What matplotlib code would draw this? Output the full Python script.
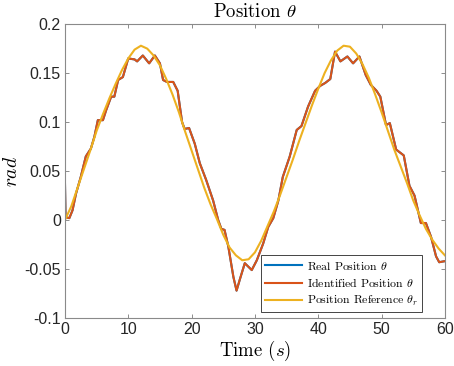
import matplotlib as mpl
import matplotlib.pyplot as plt

mpl.use('agg')

plt.rcParams['mathtext.fontset'] = 'cm'
plt.rcParams['axes.unicode_minus'] = False

# reference signal, read every 1 s (t = 0..60)
ref_time = list(range(0, 61))
ref_pos = [0.000, 0.014, 0.033, 0.052, 0.071, 0.091, 0.108, 0.124, 0.139, 0.153,
           0.165, 0.174, 0.178, 0.175, 0.168, 0.158, 0.144, 0.128, 0.110, 0.090,
           0.071, 0.052, 0.033, 0.016, 0.001, -0.015, -0.028, -0.036, -0.041, -0.040,
           -0.033, -0.021, -0.006, 0.009, 0.026, 0.044, 0.062, 0.081, 0.099, 0.117,
           0.134, 0.150, 0.163, 0.173, 0.178, 0.177, 0.170, 0.159, 0.145, 0.128,
           0.110, 0.091, 0.072, 0.055, 0.038, 0.020, 0.005, -0.009, -0.020, -0.029,
           -0.036]

# identified / real position (wiggly trace)
id_time = [0.0, 0.1, 0.7, 1.2, 1.75, 2.5, 3.3, 4.1, 4.65, 5.2, 6.0, 6.5, 7.3, 7.8,
           8.4, 9.15, 10.0, 11.0, 11.4, 12.3, 13.3, 14.2, 15.0, 15.5, 16.1, 17.1,
           17.8, 18.5, 18.9, 19.6, 20.5, 21.3, 22.3, 23.4, 24.2, 24.7, 25.2, 25.8,
           26.6, 27.1, 27.6, 28.4, 29.5, 30.3, 31.3, 32.1, 32.9, 33.7, 34.4, 35.5,
           36.6, 37.35, 38.4, 39.5, 40.3, 41.1, 41.9, 42.65, 43.5, 44.6, 45.5, 46.5,
           47.5, 48.3, 49.2, 49.8, 50.7, 51.3, 52.3, 53.5, 54.4, 55.2, 56.2, 57.0,
           57.8, 58.6, 59.1, 59.9, 60.0]
id_pos = [0.040, 0.003, 0.002, 0.010, 0.027, 0.044, 0.065, 0.073, 0.085, 0.102, 0.102,
          0.112, 0.126, 0.126, 0.143, 0.146, 0.165, 0.164, 0.162, 0.168, 0.160, 0.168,
          0.160, 0.143, 0.141, 0.141, 0.132, 0.100, 0.093, 0.094, 0.078, 0.058, 0.041,
          0.020, 0.000, -0.009, -0.010, -0.027, -0.058, -0.072, -0.061, -0.044, -0.051,
          -0.041, -0.024, -0.007, 0.002, 0.020, 0.044, 0.065, 0.092, 0.096, 0.116,
          0.132, 0.137, 0.140, 0.144, 0.172, 0.162, 0.167, 0.160, 0.167, 0.148, 0.138,
          0.132, 0.126, 0.097, 0.099, 0.072, 0.066, 0.035, 0.025, -0.003, -0.003,
          -0.017, -0.037, -0.043, -0.042, -0.042]

yticks = [-0.1, -0.05, 0, 0.05, 0.1, 0.15, 0.2]
ytick_labels = ['-0.1', '-0.05', '0', '0.05', '0.1', '0.15', '0.2']
xticks = [0, 10, 20, 30, 40, 50, 60]

fig = plt.figure(figsize=(4.54, 3.66), dpi=100)
ax = fig.add_axes([0.143, 0.131, 0.837, 0.803])

ax.plot(id_time, id_pos, color='#0072BD', lw=1.5, label=r'Real Position $\theta$')
ax.plot(id_time, id_pos, color='#D95319', lw=1.5, label=r'Identified Position $\theta$')
ax.plot(ref_time, ref_pos, color='#EDB120', lw=1.5, label=r'Position Reference $\theta_r$')

ax.set_xlim(0, 60)
ax.set_ylim(-0.1, 0.2)
ax.set_xticks(xticks)
ax.set_xticklabels([str(x) for x in xticks])
ax.set_yticks(yticks)
ax.set_yticklabels(ytick_labels)

ax.tick_params(direction='in', top=True, right=True, length=3, width=0.6,
               colors='#7a7a7a', labelcolor='#262626', labelsize=11.5, pad=3)
for lab in ax.get_xticklabels() + ax.get_yticklabels():
    lab.set_family('Liberation Sans')
for s in ax.spines.values():
    s.set_color('#8a8a8a')
    s.set_linewidth(0.8)

ax.set_title(r'Position $\theta$', family='cmr10', fontsize=13.5, pad=5)
ax.set_xlabel(r'Time $(s)$', family='cmr10', fontsize=13.5, labelpad=1)
ax.set_ylabel(r'$rad$', fontsize=14)
ax.yaxis.set_label_coords(-0.115, 0.5)

leg = ax.legend(loc='lower right', bbox_to_anchor=(0.94, 0.02), borderaxespad=0,
                prop={'family': 'cmr10', 'size': 8.5}, handlelength=3.2,
                handletextpad=0.4, labelspacing=0.4, borderpad=0.35,
                fancybox=False, framealpha=1, edgecolor='#262626')
leg.get_frame().set_linewidth(0.6)

plt.savefig('out.png', dpi=100)
